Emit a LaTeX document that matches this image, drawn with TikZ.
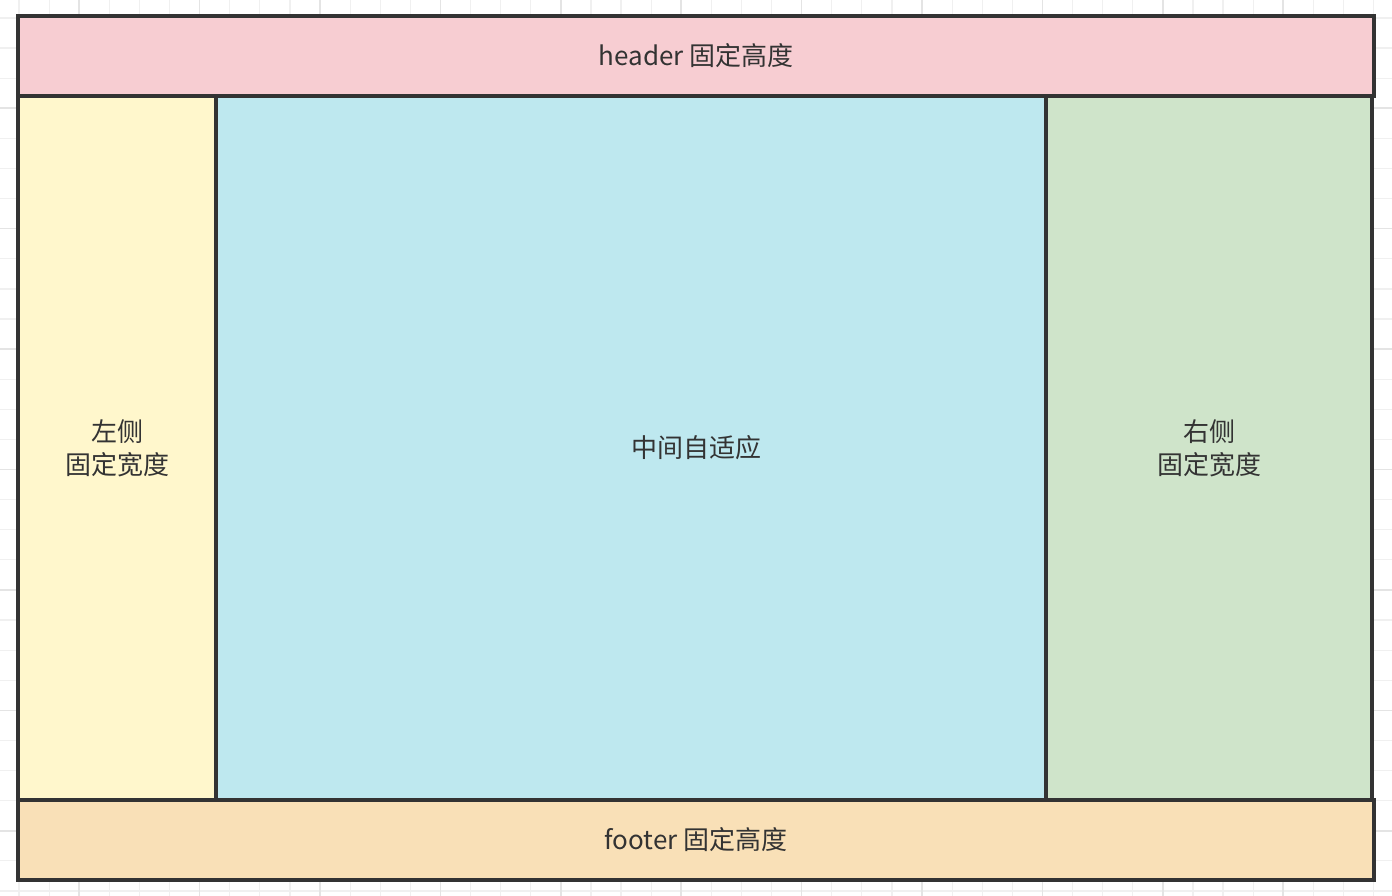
\documentclass[tikz,border=0pt]{standalone}
\usepackage{fontspec}
\setmainfont{Noto Sans CJK SC}
\definecolor{linec}{HTML}{333333}
\definecolor{headc}{HTML}{F7CDD2}
\definecolor{leftc}{HTML}{FFF7CC}
\definecolor{midc}{HTML}{BEE8EF}
\definecolor{rightc}{HTML}{CFE4CA}
\definecolor{footc}{HTML}{F9E0B7}
\definecolor{gridminor}{HTML}{F0F0F0}
\definecolor{gridmajor}{HTML}{E4E4E4}
\begin{document}
\begin{tikzpicture}[x=1pt,y=-1pt,
  region/.style={draw=linec,line width=4pt,inner sep=0pt,outer sep=0pt,anchor=north west},
  label/.style={text=linec,font=\fontsize{26}{33}\selectfont,align=center,inner sep=0pt},
  minor/.style={gridminor,line width=1.2pt},
  major/.style={gridmajor,line width=1.6pt}]
\useasboundingbox (0,0) rectangle (1392,896);
\fill[white] (0,0) rectangle (1392,896);
% grid
\foreach \i in {0,...,45} {
  \pgfmathsetmacro{\xx}{19+30.1*\i}
  \draw[minor] (\xx,0) -- (\xx,896);
}
\foreach \i in {0,...,29} {
  \pgfmathsetmacro{\yy}{18+30.1*\i}
  \draw[minor] (0,\yy) -- (1392,\yy);
}
\foreach \i in {0,...,11} {
  \pgfmathsetmacro{\xx}{79.2+120.4*\i}
  \draw[major] (\xx,0) -- (\xx,896);
}
\foreach \i in {0,...,6} {
  \pgfmathsetmacro{\yy}{108.3+120.4*\i}
  \draw[major] (0,\yy) -- (1392,\yy);
}
% regions
\node[region,fill=headc,minimum width=1356pt,minimum height=80pt] (header) at (18,16) {};
\node[region,fill=leftc,minimum width=198pt,minimum height=704pt] (left) at (18,96) {};
\node[region,fill=midc,minimum width=830pt,minimum height=704pt] (mid) at (216,96) {};
\node[region,fill=rightc,minimum width=326pt,minimum height=704pt] (right) at (1046,96) {};
\node[region,fill=footc,minimum width=1356pt,minimum height=80pt] (footer) at (18,800) {};
% labels
\node[label] (headert) at (header.center) {header 固定高度};
\node[label] (leftt) at (left.center) {左侧\\固定宽度};
\node[label] (midt) at (696,448) {中间自适应};
\node[label] (rightt) at (right.center) {右侧\\固定宽度};
\node[label] (footert) at (footer.center) {footer 固定高度};
\end{tikzpicture}
\end{document}
